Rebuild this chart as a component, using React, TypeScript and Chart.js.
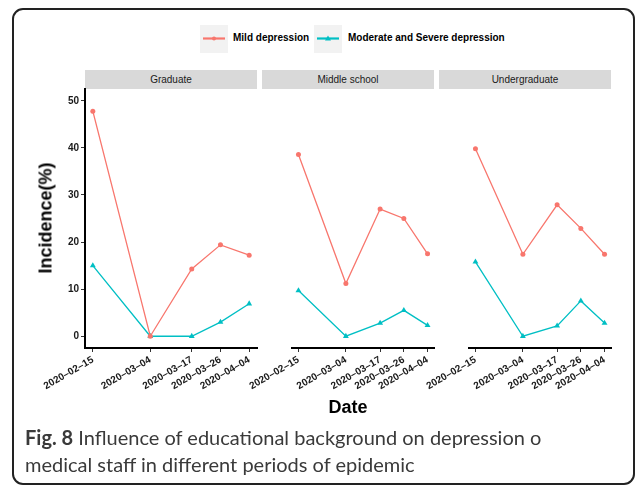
import React, { useEffect, useRef } from "react";
import { Chart, registerables } from "chart.js";

Chart.register(...registerables);

// ---------- data ----------
const dates = ["2020-02-15", "2020-03-04", "2020-03-17", "2020-03-26", "2020-04-04"];
const panelNames = ["Graduate", "Middle school", "Undergraduate"];
const seriesNames = ["Mild depression", "Moderate and Severe depression"];
const graduateMild = [47.8, 0, 14.3, 19.4, 17.2];
const graduateModerate = [15.0, 0, 0, 3.0, 6.9];
const middleMild = [38.6, 11.2, 27.0, 25.0, 17.5];
const middleModerate = [9.7, 0, 2.8, 5.5, 2.3];
const underMild = [39.8, 17.4, 27.9, 22.9, 17.4];
const underModerate = [15.8, 0, 2.2, 7.5, 2.8];
const yTicks = [0, 10, 20, 30, 40, 50];
const yTitle = "Incidence(%)";
const xTitle = "Date";
const captionBold = "Fig. 8";
const captionLine1 = " Influence of educational background on depression o";
const captionLine2 = "medical staff in different periods of epidemic";

const panelMild = [graduateMild, middleMild, underMild];
const panelModerate = [graduateModerate, middleModerate, underModerate];
const seriesColors = ["#F8766D", "#00BFC4"];

// ---------- layout ----------
const W = 635;
const H = 485;
const panelLefts = [85, 262, 439];
const panelWidth = 172;
const plotTop = 89;
const plotBottom = 348;
const yAxisWidth = 30;
const xAxisHeight = 70;
const FONT = "'Liberation Sans', Arial, Helvetica, sans-serif";

const dayOf = (d: string) => (Date.parse(d) - Date.parse(dates[0])) / 86400000;
const xVals = dates.map(dayOf);
const xSpan = xVals[xVals.length - 1] - xVals[0];
const xMin = xVals[0] - xSpan * 0.05;
const xMax = xVals[xVals.length - 1] + xSpan * 0.05;
const yMin = -2.5;
const yMax = 52.5;

function Panel({ index }: { index: number }) {
  const ref = useRef<HTMLCanvasElement>(null);
  useEffect(() => {
    if (!ref.current) return;
    const left = panelLefts[index];
    const showY = index === 0;
    const toPts = (arr: number[]) => arr.map((v, i) => ({ x: xVals[i], y: v }));
    const chart = new Chart(ref.current, {
      type: "line",
      data: {
        datasets: [
          {
            label: seriesNames[0],
            data: toPts(panelMild[index]),
            borderColor: seriesColors[0],
            backgroundColor: seriesColors[0],
            borderWidth: 1.3,
            pointStyle: "circle",
            pointRadius: 2.5,
            pointBorderWidth: 0,
            tension: 0,
          },
          {
            label: seriesNames[1],
            data: toPts(panelModerate[index]),
            borderColor: seriesColors[1],
            backgroundColor: seriesColors[1],
            borderWidth: 1.3,
            pointStyle: "triangle",
            pointRadius: 3.4,
            pointBorderWidth: 0,
            tension: 0,
          },
        ],
      },
      options: {
        animation: false,
        responsive: false,
        devicePixelRatio: 1,
        clip: false,
        layout: {
          padding: {
            left: showY ? left - yAxisWidth : left,
            right: W - (left + panelWidth),
            top: plotTop,
            bottom: H - plotBottom - xAxisHeight,
          },
        },
        plugins: {
          legend: { display: false },
          tooltip: { enabled: false },
          title: { display: false },
        },
        scales: {
          x: {
            type: "linear",
            min: xMin,
            max: xMax,
            afterBuildTicks: (scale: any) => {
              scale.ticks = xVals.map((v) => ({ value: v }));
            },
            afterFit: (scale: any) => {
              scale.height = xAxisHeight;
              scale.paddingLeft = 0;
              scale.paddingRight = 0;
            },
            ticks: {
              autoSkip: false,
              minRotation: 30,
              maxRotation: 30,
              padding: 2,
              color: "#1a1a1a",
              font: { family: FONT, size: 10, weight: "bold" },
              callback: (_v: any, i: number) => dates[i].replace(/-/g, "\u2013"),
            },
            grid: {
              display: true,
              drawOnChartArea: false,
              drawTicks: true,
              tickLength: 4,
              tickWidth: 1,
              tickColor: "#333",
            },
            border: { display: true, color: "#000", width: 2 },
          },
          y: {
            type: "linear",
            display: showY,
            min: yMin,
            max: yMax,
            afterBuildTicks: (scale: any) => {
              scale.ticks = yTicks.map((v) => ({ value: v }));
            },
            afterFit: (scale: any) => {
              scale.width = yAxisWidth;
              scale.paddingTop = 0;
              scale.paddingBottom = 0;
            },
            ticks: {
              padding: 2,
              color: "#1a1a1a",
              font: { family: FONT, size: 10, weight: "bold" },
            },
            grid: {
              display: true,
              drawOnChartArea: false,
              drawTicks: true,
              tickLength: 4,
              tickWidth: 1,
              tickColor: "#333",
            },
            border: { display: true, color: "#000", width: 2 },
          },
        },
      },
    } as any);
    return () => chart.destroy();
  }, [index]);
  return (
    <canvas
      ref={ref}
      width={W}
      height={H}
      style={{ position: "absolute", left: 0, top: 0, width: W, height: H }}
    />
  );
}

function LegendKey({ color, shape }: { color: string; shape: "circle" | "triangle" }) {
  return (
    <svg width={28} height={28} style={{ display: "block" }}>
      <rect x={0} y={0} width={28} height={28} fill="#f2f2f2" />
      <line x1={3} y1={13.5} x2={25} y2={13.5} stroke={color} strokeWidth={2.2} />
      {shape === "circle" ? (
        <circle cx={14} cy={13.5} r={2} fill={color} />
      ) : (
        <polygon points="14,10.5 17,15.5 11,15.5" fill={color} />
      )}
    </svg>
  );
}

export default function App() {
  return (
    <div
      style={{
        position: "absolute",
        left: 0,
        top: 0,
        width: W,
        height: H,
        overflow: "hidden",
        background: "#fff",
        fontFamily: FONT,
      }}
    >
      {/* frame */}
      <div
        style={{
          position: "absolute",
          left: 12,
          top: 8,
          width: 623,
          height: 477,
          border: "2px solid #222",
          borderRadius: 11,
          boxSizing: "border-box",
        }}
      />
      {/* legend */}
      <div style={{ position: "absolute", left: 200, top: 25 }}>
        <LegendKey color={seriesColors[0]} shape="circle" />
      </div>
      <div
        style={{
          position: "absolute",
          left: 233,
          top: 32,
          fontSize: 10,
          fontWeight: "bold",
          color: "#000",
          whiteSpace: "nowrap",
          lineHeight: "12px",
        }}
      >
        {seriesNames[0]}
      </div>
      <div style={{ position: "absolute", left: 314, top: 25 }}>
        <LegendKey color={seriesColors[1]} shape="triangle" />
      </div>
      <div
        style={{
          position: "absolute",
          left: 348,
          top: 32,
          fontSize: 10,
          fontWeight: "bold",
          color: "#000",
          whiteSpace: "nowrap",
          lineHeight: "12px",
        }}
      >
        {seriesNames[1]}
      </div>
      {/* strips */}
      {panelNames.map((n, i) => (
        <div
          key={n}
          style={{
            position: "absolute",
            left: panelLefts[i],
            top: 70,
            width: panelWidth,
            height: 19,
            background: "#d9d9d9",
            color: "#1a1a1a",
            fontSize: 10,
            lineHeight: "19px",
            textAlign: "center",
          }}
        >
          {n}
        </div>
      ))}
      {/* charts */}
      {[0, 1, 2].map((i) => (
        <Panel key={i} index={i} />
      ))}
      {/* y title */}
      <div
        style={{
          position: "absolute",
          left: 46,
          top: 218,
          transform: "translate(-50%, -50%) rotate(-90deg)",
          fontSize: 18,
          fontWeight: "bold",
          color: "#000",
          whiteSpace: "nowrap",
        }}
      >
        {yTitle}
      </div>
      {/* x title */}
      <div
        style={{
          position: "absolute",
          left: 348,
          top: 407,
          transform: "translate(-50%, -50%)",
          fontSize: 18,
          fontWeight: "bold",
          color: "#000",
          whiteSpace: "nowrap",
        }}
      >
        {xTitle}
      </div>
      {/* caption */}
      <div
        style={{
          position: "absolute",
          left: 25,
          top: 424,
          fontFamily: "Lato, 'Noto Sans', sans-serif",
          fontSize: 20,
          lineHeight: "27px",
          color: "#3a3a3a",
          whiteSpace: "nowrap",
        }}
      >
        <span style={{ fontWeight: "bold" }}>{captionBold}</span>
        {captionLine1}
        <br />
        {captionLine2}
      </div>
    </div>
  );
}
